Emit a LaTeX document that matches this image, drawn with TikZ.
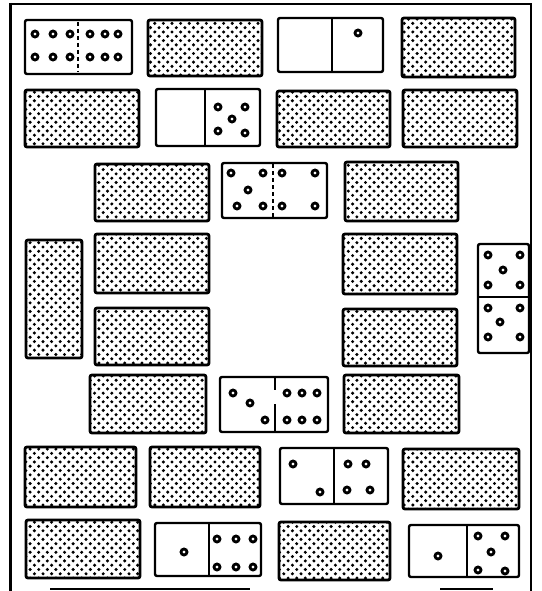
\documentclass[tikz,border=0pt]{standalone}
\usetikzlibrary{patterns}
\pgfdeclarepatternformonly{dompat}{\pgfqpoint{-2pt}{-2pt}}{\pgfqpoint{6.3pt}{6.3pt}}{\pgfqpoint{8.6pt}{8.6pt}}{%
  \pgfpathcircle{\pgfqpoint{0pt}{0pt}}{1.7pt}%
  \pgfpathcircle{\pgfqpoint{4.3pt}{4.3pt}}{1.7pt}%
  \pgfusepath{fill}}
\tikzset{
  hatchdom/.style={draw=black, line width=2.8pt, rounded corners=2pt, pattern=dompat},
  opendom/.style={draw=black, line width=2.4pt, rounded corners=2pt, fill=white},
  divline/.style={draw=black, line width=1.5pt},
  divdash/.style={draw=black, line width=1.5pt, dash pattern=on 4pt off 3pt},
  pipst/.style={draw=black, line width=2.8pt, fill=white},
  framel/.style={draw=black, line width=2.2pt},
}
\newcommand{\hdom}[4]{\path[hatchdom] (#1,#2) rectangle (#3,#4);}
\newcommand{\odom}[4]{\path[opendom] (#1,#2) rectangle (#3,#4);}
\newcommand{\pp}[2]{\path[pipst] (#1,#2) circle (3pt);}
\begin{document}
\begin{tikzpicture}[x=1pt,y=-1pt]
\useasboundingbox (0,0) rectangle (541,591);
% frame
\draw[framel, line width=3pt] (10,3) -- (10,591);
\draw[framel] (10,4) -- (531,4) -- (531,591);
\draw[framel] (50,589) -- (250,589);
\draw[framel] (440,589) -- (493,589);
% row 1
\odom{25}{20}{132}{74}
\draw[divdash] (78,22) -- (78,72);
\foreach \x in {35,53,70,90,105,118}{\pp{\x}{34}\pp{\x}{57}}
\hdom{148}{20}{262}{76}
\odom{278}{18}{383}{72}
\draw[divline] (332,19) -- (332,71);
\pp{358}{33}
\hdom{402}{18}{515}{77}
% row 2
\hdom{25}{90}{139}{147}
\odom{156}{89}{260}{146}
\draw[divline] (205,90) -- (205,145);
\pp{218}{107}\pp{245}{107}\pp{232}{119}\pp{218}{131}\pp{245}{133}
\hdom{277}{91}{390}{147}
\hdom{403}{90}{517}{147}
% row 3
\hdom{95}{164}{209}{221}
\odom{222}{163}{327}{218}
\draw[divdash] (273,164) -- (273,217);
\pp{231}{173}\pp{263}{173}\pp{248}{190}\pp{237}{206}\pp{263}{206}
\pp{282}{173}\pp{315}{173}\pp{282}{206}\pp{315}{206}
\hdom{345}{162}{458}{221}
% row 4
\hdom{26}{240}{82}{358}
\hdom{95}{234}{209}{293}
\hdom{95}{308}{209}{365}
\hdom{343}{234}{457}{294}
\hdom{343}{309}{457}{366}
\odom{478}{244}{529}{353}
\draw[divline] (479,297) -- (528,297);
\pp{488}{255}\pp{520}{255}\pp{503}{270}\pp{488}{285}\pp{520}{285}
\pp{488}{308}\pp{520}{308}\pp{500}{322}\pp{488}{337}\pp{520}{337}
% row 5
\hdom{90}{375}{206}{433}
\odom{220}{377}{328}{432}
\draw[divline] (275,378) -- (275,390);
\draw[divline] (275,404) -- (275,431);
\pp{233}{393}\pp{250}{403}\pp{265}{420}
\foreach \x in {287,302,317}{\pp{\x}{393}\pp{\x}{420}}
\hdom{344}{375}{459}{433}
% row 6
\hdom{25}{447}{136}{507}
\hdom{150}{447}{260}{507}
\odom{280}{448}{388}{504}
\draw[divline] (334,449) -- (334,503);
\pp{293}{464}\pp{320}{492}
\pp{348}{464}\pp{366}{464}\pp{347}{490}\pp{370}{490}
\hdom{403}{449}{519}{509}
% row 7
\hdom{26}{520}{140}{578}
\odom{155}{523}{261}{576}
\draw[divline] (209,524) -- (209,575);
\pp{184}{552}
\foreach \x in {217,236,253}{\pp{\x}{539}\pp{\x}{567}}
\hdom{279}{522}{390}{580}
\odom{409}{525}{519}{577}
\draw[divline] (467,526) -- (467,576);
\pp{438}{556}
\pp{478}{536}\pp{505}{536}\pp{491}{552}\pp{478}{570}\pp{505}{571}
\end{tikzpicture}
\end{document}
